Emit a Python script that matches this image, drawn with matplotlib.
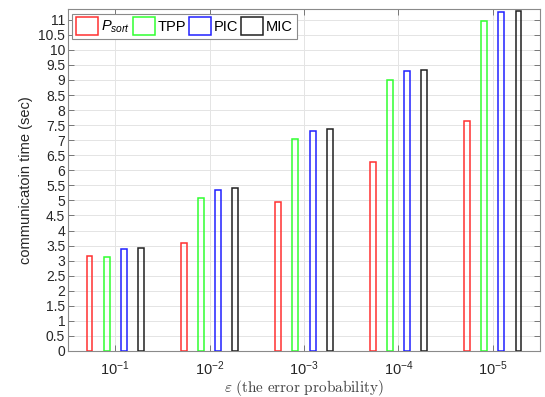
import numpy as np
import matplotlib
matplotlib.use("Agg")
import matplotlib.pyplot as plt

plt.rcParams['font.family'] = ['Liberation Sans', 'DejaVu Sans']
plt.rcParams['mathtext.fontset'] = 'custom'
plt.rcParams['mathtext.rm'] = 'Liberation Sans'
plt.rcParams['mathtext.it'] = 'Liberation Sans:italic'

# values
groups = [r'$10^{-1}$', r'$10^{-2}$', r'$10^{-3}$', r'$10^{-4}$', r'$10^{-5}$']
p_sort = [3.16, 3.60, 4.95, 6.29, 7.65]
tpp = [3.11, 5.07, 7.04, 9.00, 10.97]
pic = [3.38, 5.35, 7.31, 9.29, 11.25]
mic = [3.43, 5.40, 7.36, 9.32, 11.28]

series = [p_sort, tpp, pic, mic]
labels = [r'$P_{sort}$', 'TPP', 'PIC', 'MIC']
colors = ['#ff3030', '#30ff30', '#2020ff', '#202020']

fig = plt.figure(figsize=(5.45, 3.97), dpi=100)
ax = fig.add_axes([0.1248, 0.1159, 0.866, 0.861])

x = np.arange(1, len(groups) + 1)
step = 0.182
for i, (vals, lab, col) in enumerate(zip(series, labels, colors)):
    ax.bar(x + (i - 1.5) * step, vals, width=0.062, facecolor='none',
           edgecolor=col, linewidth=1.1, label=lab, zorder=3)

ax.set_xlim(0.5, 5.5)
ax.set_ylim(0, 11.35)
ax.set_xticks(x)
ax.set_xticklabels(groups, fontsize=10.5)
ax.set_yticks(np.arange(0, 11.01, 0.5))
ax.set_yticklabels([f'{v:g}' for v in np.arange(0, 11.01, 0.5)], fontsize=10)
ax.tick_params(direction='in', top=True, right=True, length=4, width=0.6,
               color='#666666', labelcolor='#262626')
ax.tick_params(axis='x', pad=6)
ax.tick_params(axis='y', pad=2)
ax.grid(True, color='#e4e4e4', linewidth=0.7, zorder=0)
ax.set_axisbelow(True)
for s in ax.spines.values():
    s.set_color('#8a8a8a')
    s.set_linewidth(0.8)

ax.set_ylabel('communicatoin time (sec)', fontsize=10.5, color='#262626')
ax.yaxis.set_label_coords(-0.075, 0.5)
ax.set_xlabel(r'$\varepsilon\ \mathrm{(the\ error\ probability)}$', fontsize=11,
              color='#444444', math_fontfamily='cm', va='center')
ax.xaxis.set_label_coords(0.5, -0.108)

leg = ax.legend(loc='upper left', ncol=4, fontsize=10.5, handlelength=1.5,
                handleheight=1.5, handletextpad=0.2, columnspacing=0.2,
                borderpad=0.25, borderaxespad=0.3, fancybox=False, framealpha=1,
                edgecolor='#8a8a8a')
leg.get_frame().set_linewidth(0.8)

fig.savefig('out.png', dpi=100)
